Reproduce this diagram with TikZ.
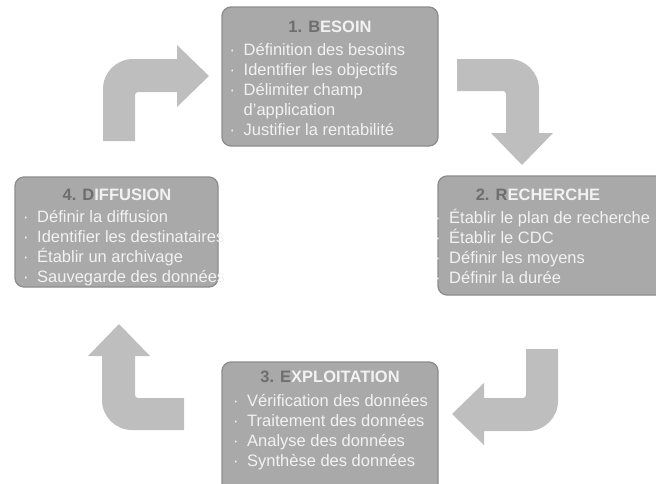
\documentclass[tikz,border=0pt]{standalone}
\usepackage{fontspec}
\setmainfont{Liberation Sans}
\usepackage{xcolor}

\definecolor{boxgray}{HTML}{A9A9A9}
\definecolor{boxline}{HTML}{8C8C8C}
\definecolor{arrowgray}{HTML}{BEBEBE}
\definecolor{txtlight}{HTML}{F2F2F2}
\definecolor{txtdark}{HTML}{6E6E6E}

\newcommand{\bul}{·\hspace{8.5pt}}

\tikzset{
    phase/.style={draw=boxline, line width=1.3pt, fill=boxgray, rounded corners=9pt},
    phasetitle/.style={font=\bfseries\fontsize{16.5}{20}\selectfont, text=txtlight, anchor=base, inner sep=0pt},
    itemline/.style={font=\fontsize{16.5}{20}\selectfont, text=txtlight, anchor=base west, inner sep=0pt},
    turn/.pic={
        \fill[arrowgray] (0,82) -- (0,30) arc (180:90:30pt) -- (74,0) -- (74,-14) -- (106,17)
            -- (74,48) -- (74,33) -- (35,33) arc (90:180:3pt) -- (32,82) -- cycle;
    }
}

\begin{document}
\begin{tikzpicture}[x=1pt, y=-1pt]
    \clip (0,0) rectangle (656,483);

    % arrows of the cycle
    \pic at (103,59) {turn};
    \pic[rotate=-90] at (539,59) {turn};
    \pic[rotate=180] at (558,431) {turn};
    \pic[rotate=90] at (102,430) {turn};

    % 1. besoin
    \node[phase, minimum width=216pt, minimum height=139pt] (besoin) at (330,76.5) {};
    \node[phasetitle] (besoin-title) at (330,32) {\textcolor{txtdark}{1. B}ESOIN};
    \foreach \y/\t [count=\i] in {55/\bul Définition des besoins, 75/\bul Identifier les objectifs,
            95/\bul Délimiter champ, 115/\phantom{\bul}d'application, 135/\bul Justifier la rentabilité}
        \node[itemline] (besoin-\i) at (229.5,\y) {\t};

    % 2. recherche
    \node[phase, minimum width=240pt, minimum height=119pt] (recherche) at (558,235.5) {};
    \node[phasetitle] (recherche-title) at (538,200) {\textcolor{txtdark}{2. R}ECHERCHE};
    \foreach \y/\t [count=\i] in {223/Établir le plan de recherche, 243/Établir le CDC,
            263/Définir les moyens, 283/Définir la durée}
        \node[itemline] (recherche-\i) at (435,\y) {\bul\t};

    % 3. exploitation
    \node[phase, minimum width=216pt, minimum height=135pt] (exploitation) at (330,429.5) {};
    \node[phasetitle] (exploitation-title) at (330,382) {\textcolor{txtdark}{3. E}XPLOITATION};
    \foreach \y/\t [count=\i] in {406/Vérification des données, 426/Traitement des données,
            446/Analyse des données, 466/Synthèse des données}
        \node[itemline] (exploitation-\i) at (233,\y) {\bul\t};

    % 4. diffusion
    \node[phase, minimum width=203pt, minimum height=110pt] (diffusion) at (116.5,232) {};
    \node[phasetitle] (diffusion-title) at (117,200) {\textcolor{txtdark}{4. D}IFFUSION};
    \foreach \y/\t [count=\i] in {222/Définir la diffusion, 242/Identifier les destinataires,
            262/Établir un archivage, 282/Sauvegarde des données}
        \node[itemline] (diffusion-\i) at (23,\y) {\bul\t};
\end{tikzpicture}
\end{document}
